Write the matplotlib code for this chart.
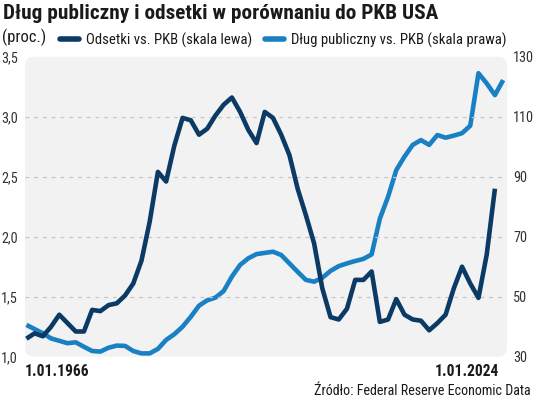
import matplotlib
matplotlib.use('Agg')
import matplotlib.pyplot as plt
from matplotlib.lines import Line2D
from matplotlib.patches import FancyBboxPatch
from matplotlib.transforms import IdentityTransform

plt.rcParams['font.family'] = ['Roboto Condensed', 'Roboto', 'DejaVu Sans']

# data
years_interest = list(range(1966, 2024))
interest = [1.15, 1.195, 1.17, 1.25, 1.35, 1.28, 1.21, 1.21, 1.39, 1.38,
            1.43, 1.445, 1.51, 1.61, 1.80, 2.125, 2.54, 2.46, 2.76, 2.99,
            2.97, 2.85, 2.90, 3.01, 3.10, 3.16, 3.04, 2.89, 2.78, 3.04,
            2.99, 2.85, 2.68, 2.40, 2.18, 1.945, 1.57, 1.33, 1.31, 1.40,
            1.64, 1.64, 1.71, 1.29, 1.31, 1.48, 1.35, 1.31, 1.30, 1.22,
            1.28, 1.35, 1.57, 1.75, 1.61, 1.49, 1.85, 2.40]
years_debt = list(range(1966, 2025))
debt = [40.6, 39.2, 37.8, 36.1, 35.3, 34.5, 34.8, 33.3, 31.9, 31.7,
        33.0, 33.7, 33.6, 31.9, 31.1, 31.1, 32.6, 35.6, 37.5, 40.0,
        43.3, 47.0, 48.8, 49.7, 51.9, 56.7, 60.6, 62.8, 64.2, 64.6,
        65.0, 63.9, 61.1, 58.3, 55.6, 55.0, 56.3, 58.6, 60.2, 61.1,
        61.9, 62.6, 64.1, 76.0, 83.3, 92.2, 96.7, 100.6, 102.2, 100.6,
        103.9, 103.0, 103.7, 104.5, 107.0, 124.5, 121.1, 117.2, 122.2]
left_ticks = [1.0, 1.5, 2.0, 2.5, 3.0, 3.5]
left_labels = ['1,0', '1,5', '2,0', '2,5', '3,0', '3,5']
right_ticks = [30, 50, 70, 90, 110, 130]

DARK = '#0b3a65'
LIGHT = '#1a80c4'
BG = '#f2f2f2'
TXT = '#1a1a1a'

W, H = 536, 399
fig = plt.figure(figsize=(W / 100, H / 100), dpi=100)
fig.patch.set_facecolor('white')

# plot area in pixels
x0, x1, ytop, ybot = 25, 507, 56.7, 356.7
ax = fig.add_axes([x0 / W, 1 - ybot / H, (x1 - x0) / W, (ybot - ytop) / H])
ax2 = ax.twinx()

bg = FancyBboxPatch((x0, H - ybot), x1 - x0, ybot - ytop,
                    boxstyle='round,pad=0,rounding_size=9',
                    transform=IdentityTransform(), facecolor=BG,
                    edgecolor='none', zorder=-10)
fig.patches.append(bg)

ax.set_facecolor('none')
ax2.set_facecolor('none')
ax.set_zorder(ax2.get_zorder() + 1)

for v in [1.5, 2.0, 2.5, 3.0]:
    ax.axhline(v, color='#c6c6c6', lw=0.9, ls=(0, (3, 4)), zorder=1)

ax2.plot(years_debt, debt, color=LIGHT, lw=3.3, solid_joinstyle='round',
         solid_capstyle='butt', clip_on=False)
ax.plot(years_interest, interest, color=DARK, lw=3.3, solid_joinstyle='round',
        solid_capstyle='butt', clip_on=False, zorder=3)

ax.set_xlim(1965.83, 2024.47)
ax.set_ylim(1.0, 3.5)
ax2.set_ylim(30, 130)

ax.set_yticks(left_ticks, left_labels)
ax2.set_yticks(right_ticks, [str(t) for t in right_ticks])
ax.set_xticks([])
for a in (ax, ax2):
    for s in a.spines.values():
        s.set_visible(False)
    a.tick_params(axis='y', length=0, labelsize=10.3, colors='#333333')
ax.tick_params(axis='y', pad=5)
ax2.tick_params(axis='y', pad=4.5)

# x labels
fig.text(x0 / W, 1 - 371 / H, '1.01.1966', fontsize=11.2, fontweight='bold',
         color=TXT, ha='left', va='center')
fig.text(499 / W, 1 - 371 / H, '1.01.2024', fontsize=11.2, fontweight='bold',
         color=TXT, ha='right', va='center')

# title and subtitle
fig.text(3 / W, 1 - 19 / H, 'Dług publiczny i odsetki w porównaniu do PKB USA',
         fontsize=15.3, fontweight='bold', color=TXT, ha='left', va='baseline')
fig.text(2 / W, 1 - 37 / H, '(proc.)', fontsize=12, color=TXT,
         ha='left', va='center')

handles = [Line2D([], [], color=DARK, lw=4, solid_capstyle='round'),
           Line2D([], [], color=LIGHT, lw=4, solid_capstyle='round')]
labels = ['Odsetki vs. PKB (skala lewa)', 'Dług publiczny vs. PKB (skala prawa)']
fig.legend(handles, labels, loc='center left', bbox_to_anchor=(60 / W, 1 - 40 / H),
           ncol=2, frameon=False, fontsize=10.6, handlelength=1.3,
           handletextpad=0.45, columnspacing=0.9, borderaxespad=0, borderpad=0,
           labelcolor=TXT)

fig.text(531 / W, 1 - 391 / H, 'Źródło: Federal Reserve Economic Data',
         fontsize=10.1, color=TXT, ha='right', va='center')

fig.savefig('out.png', dpi=100)
